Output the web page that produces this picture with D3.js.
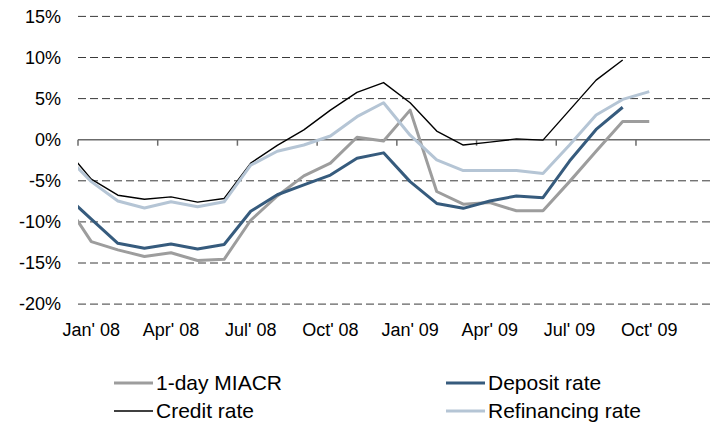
<!DOCTYPE html>
<html>
<head>
<meta charset="utf-8">
<script src="https://cdn.jsdelivr.net/npm/d3@7"></script>
<style>
  html, body { margin: 0; padding: 0; background: #fff; }
  svg { display: block; font-family: "Liberation Sans", Arial, sans-serif; }
</style>
</head>
<body>
<svg id="chart" width="710" height="423"></svg>
<script>
// Month index: -1 = Dec' 07 (partly outside the plot, clipped), 0 = Jan' 08 ... 21 = Oct' 09
const months = ["Dec' 07","Jan' 08","Feb' 08","Mar' 08","Apr' 08","May' 08","Jun' 08","Jul' 08","Aug' 08","Sep' 08","Oct' 08","Nov' 08","Dec' 08",
                "Jan' 09","Feb' 09","Mar' 09","Apr' 09","May' 09","Jun' 09","Jul' 09","Aug' 09","Sep' 09","Oct' 09"];
const miacr       = [-7.5,-12.4,-13.4,-14.2,-13.75,-14.7,-14.55,-9.8,-6.85,-4.4,-2.85,0.3,-0.15,3.6,-6.3,-7.85,-7.65,-8.65,-8.65,-5.1,-1.4,2.2,2.2];
const deposit     = [-6.7,-9.65,-12.6,-13.2,-12.7,-13.3,-12.75,-8.7,-6.7,-5.5,-4.3,-2.25,-1.6,-5.1,-7.75,-8.35,-7.45,-6.85,-7.05,-2.6,1.25,3.95,null];
const credit      = [-0.95,-4.8,-6.75,-7.25,-6.95,-7.6,-7.15,-2.85,-0.7,1.2,3.6,5.75,6.95,4.5,1.05,-0.65,-0.3,0.1,-0.05,3.6,7.25,9.7,null];
const refinancing = [-1.8,-5.1,-7.45,-8.3,-7.55,-8.15,-7.55,-3.1,-1.4,-0.65,0.45,2.8,4.5,0.55,-2.45,-3.75,-3.75,-3.75,-4.1,-0.65,3.0,4.9,5.85];

const yTicks = [15,10,5,0,-5,-10,-15,-20];
const xTickLabels = ["Jan' 08","Apr' 08","Jul' 08","Oct' 08","Jan' 09","Apr' 09","Jul' 09","Oct' 09"];
const xTickMonths = [0,3,6,9,12,15,18,21];

const seriesNames  = ["1-day MIACR","Deposit rate","Credit rate","Refinancing rate"];
const seriesValues = [miacr, deposit, credit, refinancing];
const seriesColors = ["#9d9d9d","#365b7d","#000000","#b5c5d5"];
const seriesWidths = [3, 3, 1.4, 3];

const svg = d3.select("#chart");
const left = 78, right = 710;
// x in months since 1 Jan 2008; 24 months span the full axis
const x = d3.scaleLinear().domain([0, 24]).range([left, left + 24 * 26.57]);
const y = d3.scaleLinear().domain([-20, 15]).range([304.1, 16.4]);

svg.append("defs").append("clipPath").attr("id","plotclip")
  .append("rect").attr("x", left).attr("y", 0).attr("width", right - left).attr("height", 423);

// dashed gridlines
svg.append("g").selectAll("line").data(yTicks.filter(d => d !== 0)).join("line")
  .attr("x1", left).attr("x2", right)
  .attr("y1", d => y(d)).attr("y2", d => y(d))
  .attr("stroke", "#3a3a3a").attr("stroke-width", 1)
  .attr("stroke-dasharray", "8,4");

// y labels
svg.append("g").selectAll("text").data(yTicks).join("text")
  .attr("x", 61).attr("y", d => y(d) + 6.3)
  .attr("text-anchor", "end").attr("font-size", 18).attr("fill", "#000")
  .text(d => d + "%");

// zero axis line + ticks
svg.append("line").attr("x1", left).attr("x2", right)
  .attr("y1", y(0)).attr("y2", y(0)).attr("stroke", "#6b6b6b").attr("stroke-width", 1.5);
svg.append("g").selectAll("line").data(xTickMonths).join("line")
  .attr("x1", d => x(d)).attr("x2", d => x(d))
  .attr("y1", y(0)).attr("y2", y(0) + 6)
  .attr("stroke", "#6b6b6b").attr("stroke-width", 1.5);

// x labels centered on the month
svg.append("g").selectAll("text").data(xTickMonths).join("text")
  .attr("x", d => x(d + 0.5)).attr("y", 336)
  .attr("text-anchor", "middle").attr("font-size", 18).attr("fill", "#000")
  .text((d, i) => xTickLabels[i]);

// lines
const line = d3.line()
  .defined(d => d.v !== null)
  .x(d => x(d.m + 0.5))
  .y(d => y(d.v));

const lg = svg.append("g").attr("clip-path", "url(#plotclip)");
seriesValues.forEach((vals, s) => {
  const pts = vals.map((v, i) => ({ m: i - 1, v: v }));
  lg.append("path").datum(pts)
    .attr("d", line)
    .attr("fill", "none")
    .attr("stroke", seriesColors[s])
    .attr("stroke-width", seriesWidths[s])
    .attr("stroke-linejoin", "round");
});

// legend
const legendPos = [[114, 383], [446, 383], [114, 411], [446, 411]];
seriesNames.forEach((name, s) => {
  const [lx, ly] = legendPos[s];
  svg.append("line").attr("x1", lx).attr("x2", lx + 39).attr("y1", ly).attr("y2", ly)
    .attr("stroke", seriesColors[s]).attr("stroke-width", seriesWidths[s]);
  svg.append("text").attr("x", lx + 42).attr("y", ly + 7)
    .attr("font-size", 21).attr("fill", "#000").text(name);
});
</script>
</body>
</html>
